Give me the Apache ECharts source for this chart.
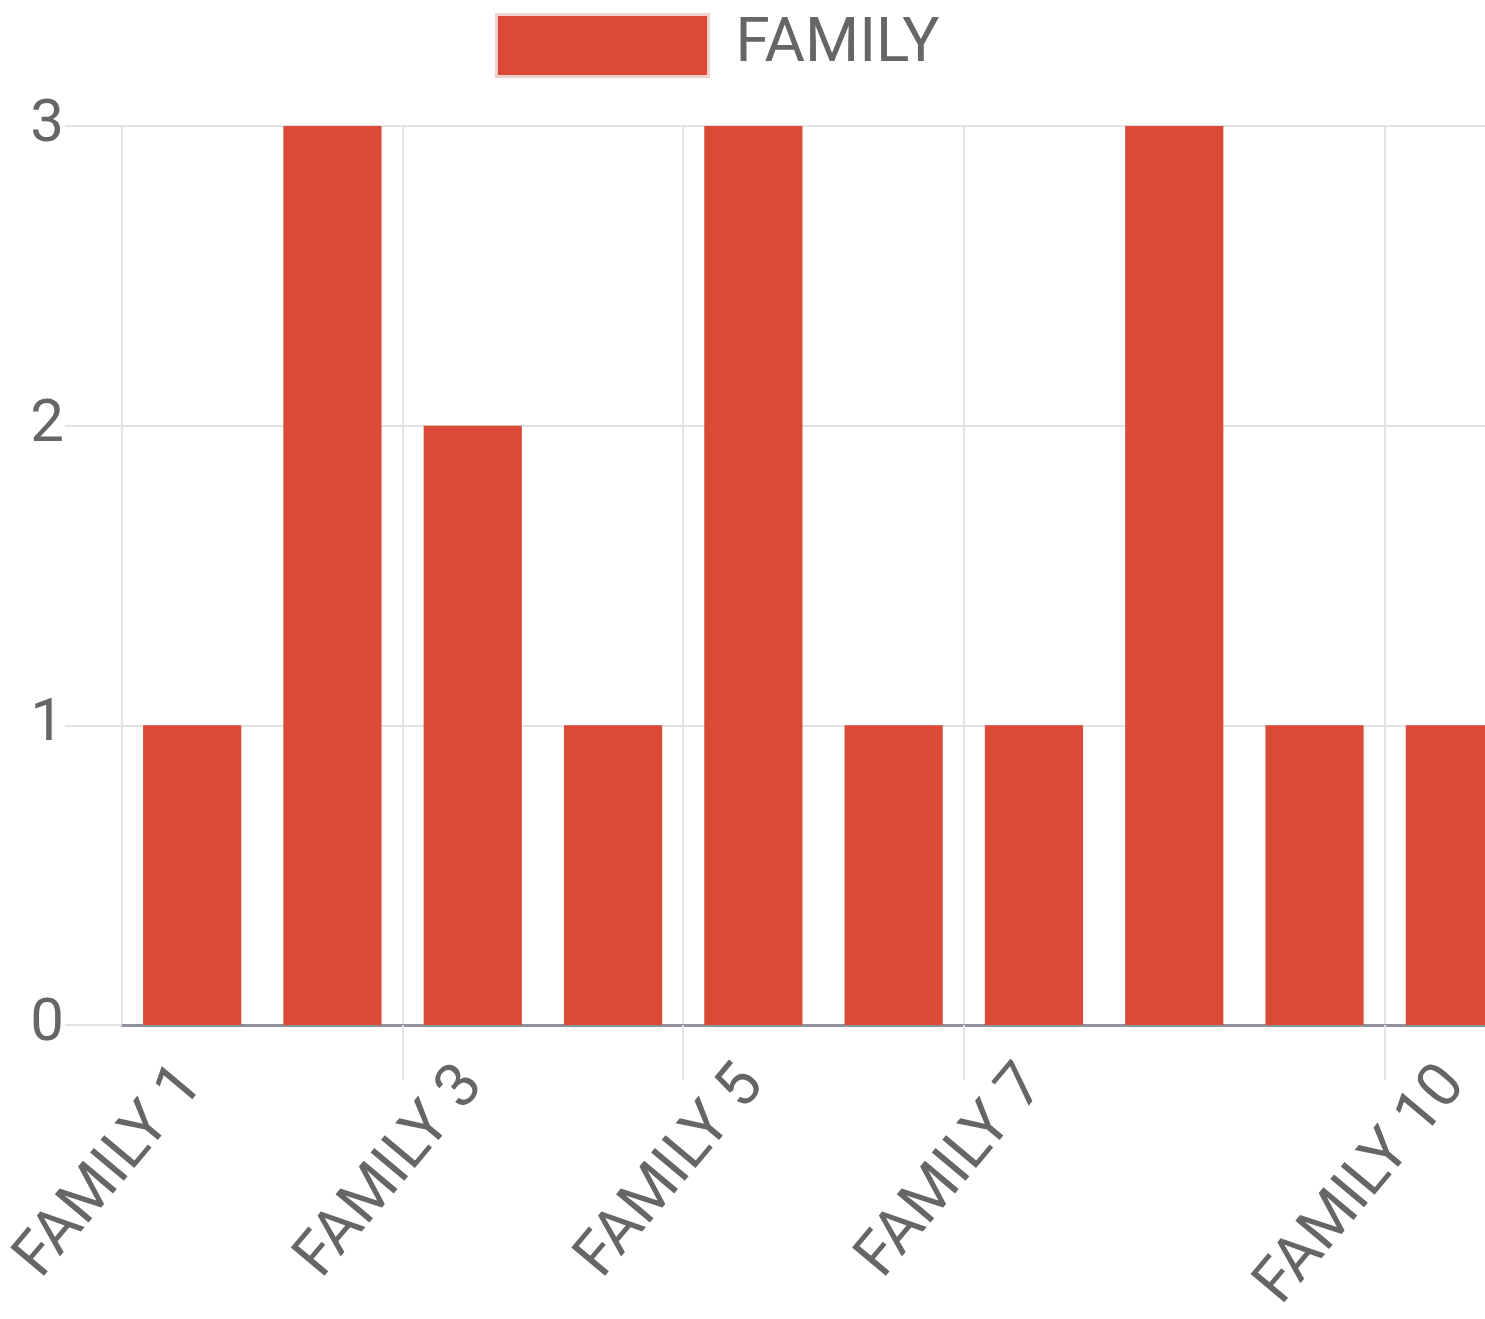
<!DOCTYPE html>
<html>
<head>
<meta charset="utf-8">
<script src="https://cdn.jsdelivr.net/npm/echarts@6/dist/echarts.min.js"></script>
<style>
html,body{margin:0;padding:0;background:#fff;}
#chart{width:1485px;height:1319px;}
</style>
</head>
<body>
<div id="chart"></div>
<script>
const categories = ['FAMILY 1','FAMILY 2','FAMILY 3','FAMILY 4','FAMILY 5','FAMILY 6','FAMILY 7','FAMILY 8','FAMILY 9','FAMILY 10'];
const familyValues = [1,3,2,1,3,1,1,3,1,1];
const yTicks = [0,1,2,3];
const shownLabelIdx = [0,2,4,6,9];

const chart = echarts.init(document.getElementById('chart'));
const font = 'Roboto, "Noto Sans", sans-serif';
const gridColor = '#e3e3e3';
chart.setOption({
  animation: false,
  legend: {
    left: 490, top: 8,
    itemWidth: 212, itemHeight: 62,
    icon: 'rect',
    itemStyle: { borderColor: '#f0d0cb', borderWidth: 3 },
    textStyle: { fontFamily: font, fontSize: 62, color: '#666', padding: [0,0,0,22] },
    data: ['FAMILY']
  },
  grid: { left: 122, top: 126, width: 1403, height: 899, containLabel: false, outerBoundsMode: 'none' },
  xAxis: {
    type: 'category',
    data: categories,
    boundaryGap: true,
    axisLine: { show: true, lineStyle: { color: '#8e929c', width: 3 } },
    axisTick: {
      show: true, length: 55,
      interval: (i) => shownLabelIdx.includes(i) && i !== 0,
      lineStyle: { color: gridColor, width: 2 }
    },
    splitLine: {
      show: true,
      interval: (i) => shownLabelIdx.includes(i),
      lineStyle: { color: gridColor, width: 2 }
    },
    axisLabel: {
      interval: (i) => shownLabelIdx.includes(i),
      rotate: 50, fontSize: 62, color: '#666', fontFamily: font, margin: 50
    }
  },
  yAxis: {
    type: 'value',
    min: 0, max: 3, interval: 1,
    axisLine: { show: true, lineStyle: { color: gridColor, width: 2 } },
    axisTick: { show: true, length: 57, lineStyle: { color: gridColor, width: 2 } },
    splitLine: { show: true, lineStyle: { color: ['#8e929c', gridColor, gridColor, gridColor], width: 2 } },
    axisLabel: {
      fontSize: 60, color: '#666', fontFamily: font, margin: 58,
      formatter: (v) => yTicks.includes(v) ? String(v) : ''
    }
  },
  series: [{
    name: 'FAMILY',
    type: 'bar',
    data: familyValues,
    barWidth: '70%',
    itemStyle: { color: '#db4a37' }
  }]
});
</script>
</body>
</html>
